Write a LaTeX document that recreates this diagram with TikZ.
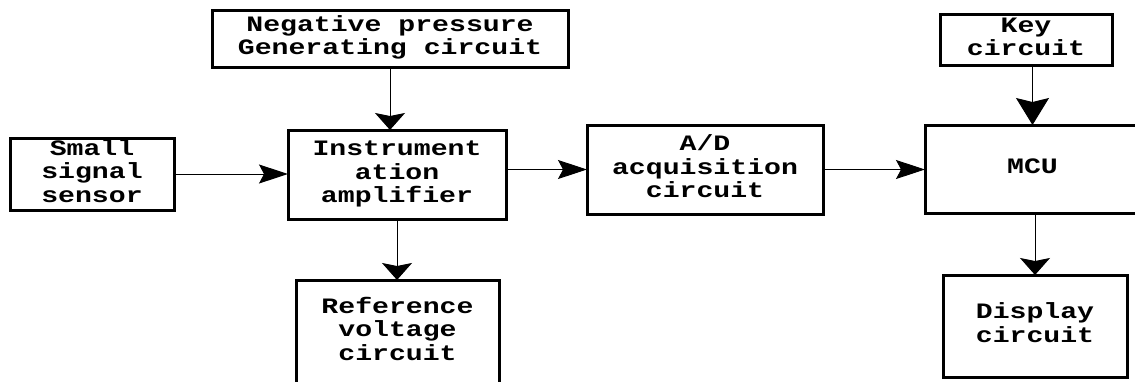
\documentclass[tikz,border=0pt]{standalone}
\usepackage{fontspec}
\usepackage{graphicx}
\usetikzlibrary{arrows.meta}
\newfontfamily\blockfont{Liberation Mono}
% block labels: centred lines, widened monospace
\newcommand{\blocktext}[1]{\scalebox{1.28}[1]{\begin{tabular}{@{}c@{}}#1\end{tabular}}}
\begin{document}
\begin{tikzpicture}[x=1pt,y=-1pt,
  block/.style={draw, line width=3pt, inner sep=0pt, outer sep=0pt,
    font=\blockfont\bfseries\fontsize{22}{23.5}\selectfont},
  harr/.style={line width=1pt, -{Stealth[length=29pt,width=19pt,inset=5pt]}},
  varr/.style={line width=1pt, -{Stealth[length=17pt,width=30pt,inset=3pt]}},
  karr/.style={line width=1pt, -{Stealth[length=27pt,width=33pt,inset=4pt]}}]
\useasboundingbox (0,0) rectangle (1135,381);
\clip (0,0) rectangle (1135,381);
\fill[white] (0,0) rectangle (1135,381);

\node[block, minimum width=164pt, minimum height=72pt] (sensor) at (92,174)
  {\blocktext{Small\\signal\\sensor}};
\node[block, minimum width=356pt, minimum height=57pt] (negp) at (390,38.5)
  {\blocktext{Negative pressure\\Generating circuit}};
\node[block, minimum width=218pt, minimum height=89pt] (inst) at (397,174.5)
  {\blocktext{Instrument\\ation\\amplifier}};
\node[block, minimum width=203pt, minimum height=104pt] (ref) at (397.5,332)
  {\blocktext{Reference\\voltage\\circuit}};
\node[block, minimum width=236pt, minimum height=89pt] (ad) at (705,169.5)
  {\blocktext{A/D\\acquisition\\circuit}};
\node[block, minimum width=215pt, minimum height=88pt] (mcu) at (1032.5,169)
  {\blocktext{MCU}};
\node[block, minimum width=172pt, minimum height=51pt] (key) at (1026,39.5)
  {\blocktext{Key\\circuit}};
\node[block, minimum width=184pt, minimum height=102pt] (disp) at (1035,326)
  {\blocktext{Display\\circuit}};

\draw[harr] (sensor.east) -- (sensor.east -| inst.west);
\draw[harr] (ad.west -| inst.east) -- (ad.west);
\draw[harr] (ad.east) -- (ad.east -| mcu.west);
\draw[varr] (negp.south) -- (negp.south |- inst.north);
\draw[varr] (inst.south) -- (inst.south |- ref.north);
\draw[karr] (mcu.north |- key.south) -- (mcu.north);
\draw[varr] (disp.north |- mcu.south) -- (disp.north);
\end{tikzpicture}
\end{document}
